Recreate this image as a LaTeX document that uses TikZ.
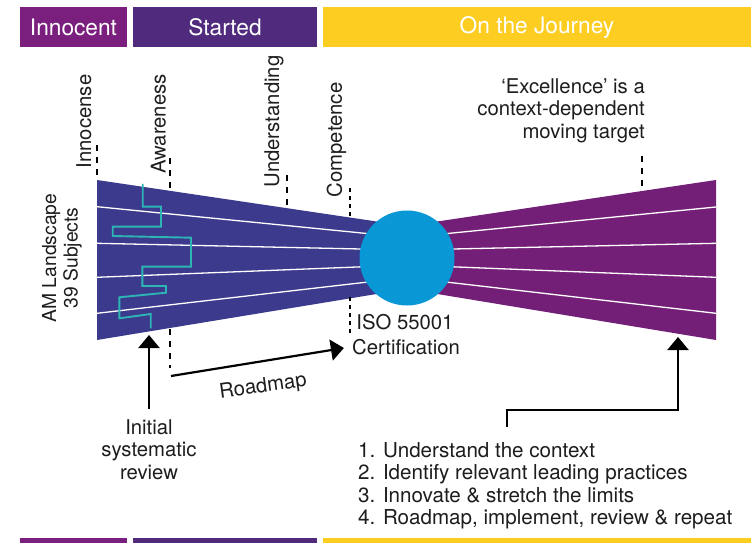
\documentclass[tikz,border=0pt]{standalone}
\usepackage{fontspec}
\setmainfont{TeX Gyre Heros}
\usetikzlibrary{arrows.meta}
\definecolor{cInno}{HTML}{7A1F7E}
\definecolor{cStart}{HTML}{4F2A7D}
\definecolor{cJour}{HTML}{FDCD21}
\definecolor{cLeft}{HTML}{3C3A8D}
\definecolor{cRight}{HTML}{731F78}
\definecolor{cCirc}{HTML}{0A97D6}
\definecolor{cTeal}{HTML}{2DB5B4}
\definecolor{cText}{HTML}{1E1C1D}
\begin{document}
\begin{tikzpicture}[x=1bp,y=-1bp,
  bar/.style={inner sep=0, text=white, minimum height=40bp,
    font=\fontsize{22.7bp}{26bp}\selectfont},
  lbl/.style={text=cText, inner sep=0, font=\fontsize{20.3bp}{22.5bp}\selectfont},
  dashln/.style={draw=black, line width=2bp, dash pattern=on 6bp off 6bp},
  thindash/.style={draw=black, line width=1.1bp, dash pattern=on 4bp off 4bp},
  arr/.style={draw=black, line width=2.2bp, -{Triangle[width=21bp,length=13bp]}},
  sep/.style={draw=white, line width=1.3bp}
]
\useasboundingbox (0,0) rectangle (751,543);
\fill[white] (0,0) rectangle (751,543);

% top bars
\node[bar, fill=cInno, minimum width=107bp] (inno) at (73.5,27) {Innocent};
\node[bar, fill=cStart, minimum width=184bp] (start) at (225,27) {Started};
\node[bar, fill=cJour, minimum width=428bp] (jour) at (537,27) {On the Journey};
% bottom bars
\fill[cInno] (20,537.5) rectangle (127,543);
\fill[cStart] (133,537.5) rectangle (317,543);
\fill[cJour] (323,537.5) rectangle (751,543);

% wedges
\fill[cLeft] (97,180) -- (407,226) -- (407,289) -- (97,340) -- cycle;
\fill[cRight] (716,180) -- (407,226) -- (407,289) -- (716,340) -- cycle;
\draw[sep] (97,206.7) -- (407,237.5);
\draw[sep] (97,243.3) -- (407,250);
\draw[sep] (97,277.3) -- (407,265);
\draw[sep] (97,313.3) -- (407,277.5);
\draw[sep] (716,207) -- (407,237.5);
\draw[sep] (716,243.3) -- (407,250);
\draw[sep] (716,277.3) -- (407,265);
\draw[sep] (716,313.3) -- (407,277.5);

% teal profile
\draw[cTeal, line width=1.9bp] (142.7,184) -- (142.7,206.7) -- (161,206.7) -- (161,226.7)
  -- (112.7,226.7) -- (112.7,236) -- (191,237.7) -- (191,266.7) -- (142.3,266.7)
  -- (142.3,286) -- (166,286) -- (166,292.7) -- (119.3,297.3) -- (119.3,318.3)
  -- (150.7,314) -- (150.7,328.3);

% circle
\node[circle, fill=cCirc, minimum size=95bp, inner sep=0] (iso) at (407,258) {};

% dashed markers
\draw[dashln] (97,145) -- (97,180);
\draw[dashln] (170,158) -- (170,190);
\draw[dashln] (170,329) -- (170,368);
\draw[dashln] (287,175) -- (287,208);
\draw[thindash] (350,188) -- (350,218);
\draw[thindash] (350,297) -- (350,336);
\draw[dashln] (642,156) -- (642,190);

% stage labels
\node[lbl, rotate=90] (innocense) at (84,121.5) {Innocense};
\node[lbl, rotate=90] (aware) at (158.5,124) {Awareness};
\node[lbl, rotate=90] (under) at (274,121.5) {Understanding};
\node[lbl, rotate=90] (compet) at (336.5,140) {Competence};
\node[lbl, rotate=90, align=center, font=\fontsize{19.3bp}{21.5bp}\selectfont] (amland) at (62,258) {AM Landscape\\39 Subjects};
\node[lbl, align=right, anchor=east] (excel) at (645,110.5) {‘Excellence’ is a\\context-dependent\\moving target};

\node[lbl] (isotxt) at (405,322) {ISO 55001};
\node[lbl] (cert) at (406,347) {Certification};
\node[lbl, align=center] (init) at (149,449.5) {Initial\\systematic\\review};
\node[lbl, rotate=8] (road) at (263,387) {Roadmap};
\node[lbl, align=left, anchor=west, font=\fontsize{20.6bp}{22.5bp}\selectfont] (list) at (358,485.5) {1. Understand the context\\2. Identify relevant leading practices\\3. Innovate \& stretch the limits\\4. Roadmap, implement, review \& repeat};

% arrows
\coordinate (wb) at (149,335);
\coordinate (rmstart) at (171,376);
\coordinate (lstart) at (507,427);
\coordinate (rtgt) at (678,337);
\draw[arr] ([yshift=10bp]init.north) -- (wb);
\draw[arr] (rmstart) -- ([xshift=-8bp,yshift=-1bp]cert.west);
\draw[arr] (lstart) -- ++(0,-17) -| (rtgt);
\end{tikzpicture}
\end{document}
